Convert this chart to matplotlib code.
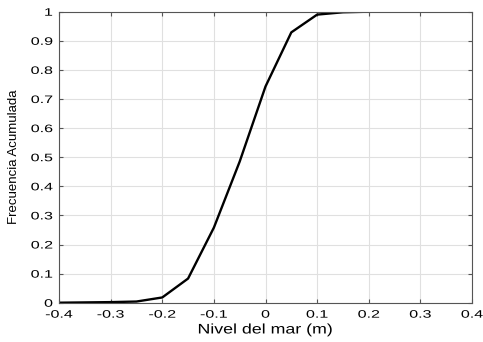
import matplotlib
matplotlib.use("Agg")
import matplotlib.pyplot as plt
from matplotlib.patheffects import AbstractPathEffect
from matplotlib.transforms import Affine2D

nivel = [-0.4, -0.35, -0.3, -0.25, -0.2, -0.15, -0.1, -0.05, 0.0, 0.05, 0.1, 0.15, 0.2, 0.25, 0.3, 0.35, 0.4]
frecuencia = [0.0, 0.001, 0.002, 0.004, 0.018, 0.083, 0.258, 0.485, 0.743, 0.929, 0.99, 0.998, 1.0, 1.0, 1.0, 1.0, 1.0]
xticks = [-0.4, -0.3, -0.2, -0.1, 0, 0.1, 0.2, 0.3, 0.4]
xticklabels = ["-0.4", "-0.3", "-0.2", "-0.1", "0", "0.1", "0.2", "0.3", "0.4"]
yticks = [0, 0.1, 0.2, 0.3, 0.4, 0.5, 0.6, 0.7, 0.8, 0.9, 1]
yticklabels = ["0", "0.1", "0.2", "0.3", "0.4", "0.5", "0.6", "0.7", "0.8", "0.9", "1"]


class Stretch(AbstractPathEffect):
    """Stretch glyph paths (in text coordinates) about an anchor."""
    def __init__(self, sx, ha='center', sy=1.0):
        super().__init__()
        self.sx = sx
        self.sy = sy
        self.ha = ha

    def draw_path(self, renderer, gc, tpath, affine, rgbFace=None):
        ext = tpath.get_extents()
        if self.ha == 'right':
            cx = ext.x1
        elif self.ha == 'left':
            cx = ext.x0
        else:
            cx = (ext.x0 + ext.x1) / 2
        t = Affine2D().translate(-cx, 0).scale(self.sx, self.sy).translate(cx, 0)
        renderer.draw_path(gc, tpath, t + affine, rgbFace)


plt.rcParams['font.family'] = ['Liberation Sans', 'DejaVu Sans']
fig = plt.figure(figsize=(4.83, 3.42), dpi=100)
ax = fig.add_axes([59/483, 1 - 302.7/342, (472 - 59)/483, (302.7 - 11.7)/342])
ax.plot(nivel, frecuencia, color='black', linewidth=1.7)
ax.set_xlim(-0.4, 0.4)
ax.set_ylim(0, 1)
ax.set_xticks(xticks)
ax.set_xticklabels(xticklabels)
ax.set_yticks(yticks)
ax.set_yticklabels(yticklabels)
ax.grid(True, color='#e0e0e0', linewidth=0.8, linestyle='-')
ax.tick_params(direction='in', top=True, right=True, length=3, labelsize=7.8, color='#555555')
ax.tick_params(axis='x', pad=5)
ax.tick_params(axis='y', pad=4.5)
for lab in ax.get_xticklabels():
    lab.set_path_effects([Stretch(1.48, 'center')])
for lab in ax.get_yticklabels():
    lab.set_path_effects([Stretch(1.48, 'right')])
for s in ax.spines.values():
    s.set_color('#555555')
    s.set_linewidth(0.8)
xl = ax.set_xlabel('Nivel del mar (m)', fontsize=10)
xl.set_path_effects([Stretch(1.28, 'center')])
ax.xaxis.set_label_coords(0.5, -0.068)
yl = ax.set_ylabel('Frecuencia Acumulada', fontsize=9.5)
ax.yaxis.set_label_coords(-0.094, 0.5)
fig.savefig('out.png', dpi=100)
